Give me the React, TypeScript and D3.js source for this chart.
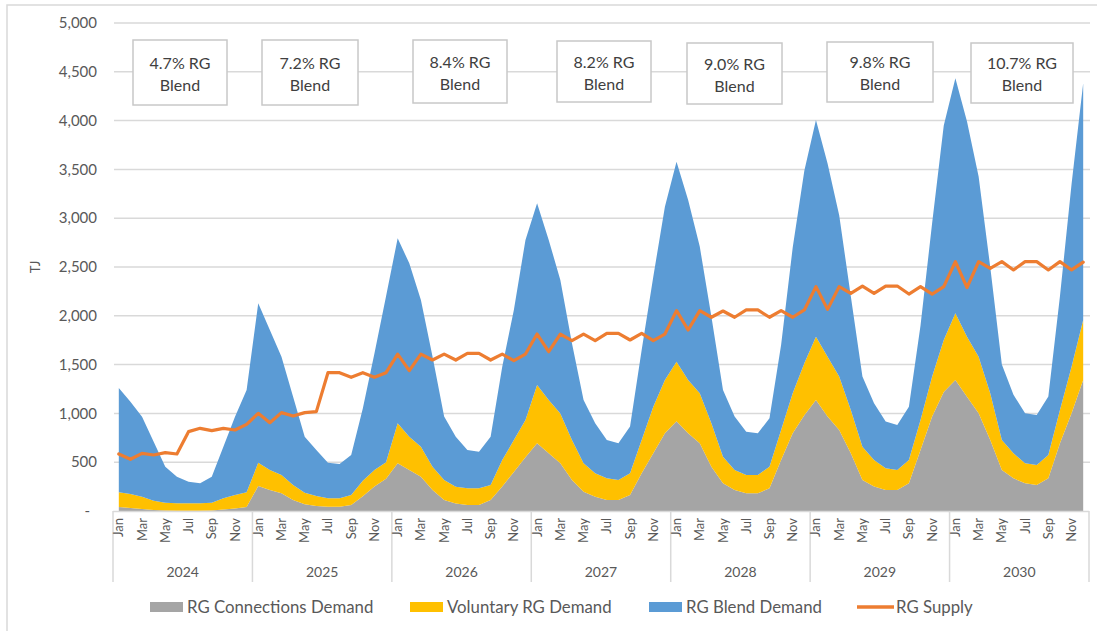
import React from "react";
import * as d3 from "d3";

// Monthly demand and supply (TJ), Jan 2024 – Dec 2030
const years = ["2024", "2025", "2026", "2027", "2028", "2029", "2030"];
const monthNames = ["Jan", "Feb", "Mar", "Apr", "May", "Jun", "Jul", "Aug", "Sep", "Oct", "Nov", "Dec"];

const connectionsDemand = [
  40, 30, 20, 10, 5, 3, 3, 3, 5, 15, 25, 40,
  256, 215, 181, 113, 68, 51, 44, 44, 61, 150, 250, 330,
  488, 420, 352, 215, 113, 78, 61, 61, 113, 250, 400, 550,
  693, 591, 488, 318, 198, 147, 113, 113, 164, 386, 591, 796,
  920, 796, 693, 454, 284, 215, 181, 181, 232, 523, 796, 980,
  1138, 967, 830, 591, 318, 250, 215, 215, 284, 625, 967, 1220,
  1342, 1171, 1001, 727, 420, 335, 284, 266, 335, 693, 1001, 1342,
];

const voluntaryDemand = [
  151, 144, 127, 96, 80, 76, 76, 76, 80, 115, 139, 151,
  239, 205, 188, 153, 120, 103, 86, 86, 103, 160, 170, 170,
  410, 341, 307, 239, 205, 171, 171, 171, 153, 272, 327, 382,
  598, 546, 512, 409, 290, 239, 222, 205, 222, 341, 478, 546,
  610, 546, 513, 444, 273, 205, 188, 188, 222, 307, 410, 533,
  648, 614, 547, 444, 341, 273, 222, 205, 239, 308, 410, 532,
  683, 615, 580, 479, 307, 256, 205, 205, 239, 342, 478, 615,
];

const blendDemand = [
  1069, 946, 819, 604, 369, 273, 221, 205, 267, 529, 802, 1049,
  1633, 1435, 1212, 905, 573, 471, 365, 352, 410, 740, 1195, 1700,
  1896, 1777, 1503, 1128, 649, 513, 393, 376, 496, 957, 1333, 1845,
  1862, 1640, 1367, 991, 650, 513, 393, 376, 479, 923, 1332, 1776,
  2049, 1845, 1503, 1094, 683, 547, 444, 427, 496, 870, 1494, 1972,
  2220, 1979, 1653, 1165, 718, 581, 479, 462, 546, 967, 1573, 2198,
  2408, 2204, 1845, 1294, 773, 599, 512, 513, 598, 1165, 1871, 2425,
];

const rgSupply = [
  584, 530, 591, 574, 598, 584, 813, 847, 823, 847, 830, 888,
  1001, 905, 1008, 973, 1008, 1018, 1417, 1417, 1370, 1417, 1370, 1417,
  1608, 1438, 1608, 1547, 1608, 1547, 1615, 1615, 1547, 1608, 1540, 1608,
  1813, 1632, 1813, 1745, 1813, 1745, 1820, 1820, 1752, 1820, 1745, 1813,
  2053, 1855, 2053, 1985, 2049, 1985, 2060, 2060, 1985, 2053, 1985, 2060,
  2299, 2066, 2299, 2230, 2305, 2230, 2305, 2305, 2223, 2299, 2223, 2299,
  2555, 2290, 2555, 2486, 2555, 2470, 2555, 2555, 2470, 2555, 2470, 2550,
];

const blendShares = ["4.7%", "7.2%", "8.4%", "8.2%", "9.0%", "9.8%", "10.7%"];
const yTicks = [0, 500, 1000, 1500, 2000, 2500, 3000, 3500, 4000, 4500, 5000];

// Annotation box placement (left, top, width, height)
const boxLayout = [
  [133, 40, 94, 65],
  [262, 40, 96, 65],
  [413, 40, 94, 63],
  [557, 41, 94, 61],
  [687, 43, 95, 61],
  [827, 42, 106, 60],
  [971, 43, 102, 60],
];

const seriesInfo = [
  { key: "connections", label: "RG Connections Demand", color: "#a5a5a5" },
  { key: "voluntary", label: "Voluntary RG Demand", color: "#ffc000" },
  { key: "blend", label: "RG Blend Demand", color: "#5b9bd5" },
];

const FONT = "Lato, 'Open Sans', sans-serif";
const TEXT = "#595959";
const GRID = "#d9d9d9";

export default function App() {
  const W = 1097;
  const H = 631;
  const left = 113;
  const right = 1089;
  const top = 23;
  const bottom = 511;

  const n = connectionsDemand.length;
  const rows = d3.range(n).map((i) => ({
    i,
    connections: connectionsDemand[i],
    voluntary: voluntaryDemand[i],
    blend: blendDemand[i],
    supply: rgSupply[i],
  }));

  const x = d3.scaleBand<number>().domain(d3.range(n)).range([left, right]).padding(0);
  const cx = (i: number) => (x(i) as number) + x.bandwidth() / 2;
  const y = d3.scaleLinear().domain([0, 5000]).range([bottom, top]);

  const stack = d3.stack<any>().keys(seriesInfo.map((s) => s.key));
  const layers = stack(rows);

  const area = d3
    .area<any>()
    .x((d) => cx(d.data.i))
    .y0((d) => y(d[0]))
    .y1((d) => y(d[1]));

  const line = d3
    .line<any>()
    .x((d) => cx(d.i))
    .y((d) => y(d.supply));

  const yearWidth = x.bandwidth() * 12;
  const fmt = d3.format(",");

  const legendY = 607;
  const legendItems = [
    { x: 150, label: seriesInfo[0].label, color: seriesInfo[0].color, type: "rect" },
    { x: 410, label: seriesInfo[1].label, color: seriesInfo[1].color, type: "rect" },
    { x: 649, label: seriesInfo[2].label, color: seriesInfo[2].color, type: "rect" },
    { x: 857, label: "RG Supply", color: "#ed7d31", type: "line" },
  ];

  return (
    <svg
      width={W}
      height={H}
      viewBox={`0 0 ${W} ${H}`}
      style={{ position: "absolute", left: 0, top: 0, background: "#fff" }}
      fontFamily={FONT}
    >
      <rect x={7} y={5} width={W + 10} height={H + 10} fill="#fff" stroke={GRID} strokeWidth={1.5} />

      {/* gridlines */}
      {yTicks.slice(1).map((t) => (
        <line key={t} x1={left + 1} x2={right + 1} y1={y(t)} y2={y(t)} stroke={GRID} strokeWidth={1.5} />
      ))}

      {/* y tick labels */}
      {yTicks.map((t) => (
        <text
          key={t}
          x={t === 0 ? 90 : 97}
          y={y(t)}
          dy="0.35em"
          textAnchor="end"
          fontSize={15}
          fill={TEXT}
        >
          {t === 0 ? "-" : fmt(t)}
        </text>
      ))}

      <text transform={`translate(40, ${y(2500)}) rotate(-90)`} textAnchor="middle" fontSize={13} fill={TEXT}>
        TJ
      </text>

      {/* stacked demand areas */}
      {layers.map((layer, k) => (
        <path key={layer.key} d={area(layer) as string} fill={seriesInfo[k].color} />
      ))}

      {/* supply line */}
      <path
        d={line(rows) as string}
        fill="none"
        stroke="#ed7d31"
        strokeWidth={3.2}
        strokeLinejoin="round"
        strokeLinecap="round"
      />

      {/* category axis */}
      <line x1={left} x2={right} y1={bottom + 0.5} y2={bottom + 0.5} stroke={GRID} strokeWidth={1.5} />
      {d3.range(years.length + 1).map((k) => {
        const xx = left + k * yearWidth;
        return <line key={k} x1={xx} x2={xx} y1={bottom} y2={582} stroke={GRID} strokeWidth={1.5} />;
      })}
      {rows
        .filter((r) => r.i % 2 === 0)
        .map((r) => (
          <text
            key={r.i}
            transform={`translate(${cx(r.i) + 4.5}, 518) rotate(-90)`}
            textAnchor="end"
            fontSize={13}
            fill={TEXT}
          >
            {monthNames[r.i % 12]}
          </text>
        ))}
      {years.map((yr, k) => (
        <text
          key={yr}
          x={left + (k + 0.5) * yearWidth}
          y={577}
          textAnchor="middle"
          fontSize={14}
          fill={TEXT}
        >
          {yr}
        </text>
      ))}

      {/* blend share annotations */}
      {blendShares.map((s, k) => {
        const [bx, by, bw, bh] = boxLayout[k];
        return (
          <g key={s}>
            <rect x={bx} y={by} width={bw} height={bh} fill="#fff" stroke="#c8c8c8" strokeWidth={1.5} />
            <text x={bx + bw / 2} y={by + bh / 2 - 4} textAnchor="middle" fontSize={16} fill="#404040">
              {`${s} RG`}
            </text>
            <text x={bx + bw / 2} y={by + bh / 2 + 18} textAnchor="middle" fontSize={16} fill="#404040">
              Blend
            </text>
          </g>
        );
      })}

      {/* legend */}
      {legendItems.map((it) => (
        <g key={it.label}>
          {it.type === "rect" ? (
            <rect x={it.x} y={legendY - 5} width={33} height={10} fill={it.color} />
          ) : (
            <line x1={it.x} x2={it.x + 37} y1={legendY} y2={legendY} stroke={it.color} strokeWidth={3.5} />
          )}
          <text x={it.x + (it.type === "rect" ? 37 : 39)} y={legendY} dy="0.35em" fontSize={16.8} fill={TEXT}>
            {it.label}
          </text>
        </g>
      ))}
    </svg>
  );
}
